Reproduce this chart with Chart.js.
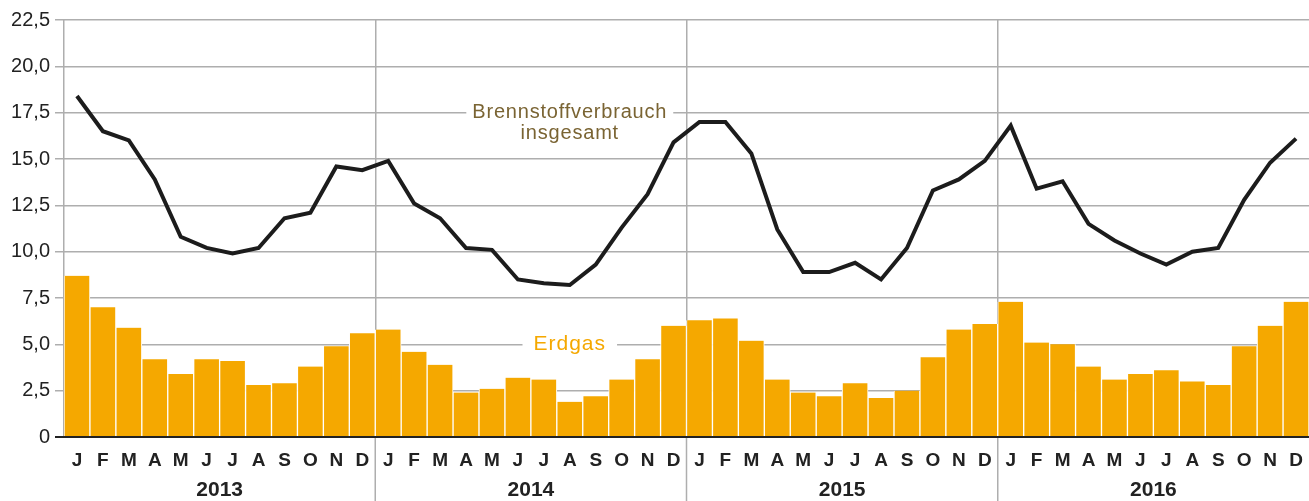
<!DOCTYPE html>
<html>
<head>
<meta charset="utf-8">
<script src="https://cdn.jsdelivr.net/npm/chart.js@4"></script>
<style>
    html, body { margin: 0; padding: 0; background: #fff; }
    #wrap { width: 1309px; height: 501px; }
</style>
</head>
<body>
<div id="wrap"><canvas id="chart" width="1309" height="501"></canvas></div>
<script>
// Brennstoffverbrauch vs. Erdgas, monthly 2013-2016

const years = ['2013', '2014', '2015', '2016'];
const monthLetters = ['J', 'F', 'M', 'A', 'M', 'J', 'J', 'A', 'S', 'O', 'N', 'D'];

const totalFuel2013 = [18.4, 16.5, 16.0, 13.9, 10.8, 10.2, 9.9, 10.2, 11.8, 12.1, 14.6, 14.4];
const totalFuel2014 = [14.9, 12.6, 11.8, 10.2, 10.1, 8.5, 8.3, 8.2, 9.3, 11.3, 13.1, 15.9];
const totalFuel2015 = [17.0, 17.0, 15.3, 11.2, 8.9, 8.9, 9.4, 8.5, 10.2, 13.3, 13.9, 14.9];
const totalFuel2016 = [16.8, 13.4, 13.8, 11.5, 10.6, 9.9, 9.3, 10.0, 10.2, 12.8, 14.8, 16.1];

const gas2013 = [8.7, 7.0, 5.9, 4.2, 3.4, 4.2, 4.1, 2.8, 2.9, 3.8, 4.9, 5.6];
const gas2014 = [5.8, 4.6, 3.9, 2.4, 2.6, 3.2, 3.1, 1.9, 2.2, 3.1, 4.2, 6.0];
const gas2015 = [6.3, 6.4, 5.2, 3.1, 2.4, 2.2, 2.9, 2.1, 2.5, 4.3, 5.8, 6.1];
const gas2016 = [7.3, 5.1, 5.0, 3.8, 3.1, 3.4, 3.6, 3.0, 2.8, 4.9, 6.0, 7.3];

const yTicks = [0, 2.5, 5, 7.5, 10, 12.5, 15, 17.5, 20, 22.5];

// Series labels placed inside the plot
const fuelLabel = ['Brennstoffverbrauch', 'insgesamt'];
const gasLabel = 'Erdgas';

const FONT = '"Liberation Sans", Arial, Helvetica, sans-serif';
const GRID = '#aeaeae';
const ORANGE = '#f5a800';

const labels = [];
years.forEach(() => monthLetters.forEach(m => labels.push(m)));
const totalFuel = [].concat(totalFuel2013, totalFuel2014, totalFuel2015, totalFuel2016);
const gas = [].concat(gas2013, gas2014, gas2015, gas2016);

// Labels in the plot, with a white patch that breaks the grid line
const seriesLabels = {
    id: 'seriesLabels',
    beforeDatasetsDraw(chart) {
        const ctx = chart.ctx;
        const x = chart.scales.x.getPixelForValue(19);
        const y = chart.scales.y;
        ctx.save();
        ctx.textAlign = 'center';
        ctx.textBaseline = 'middle';

        ctx.font = '20px ' + FONT;
        ctx.letterSpacing = '0.8px';
        let w = ctx.measureText(fuelLabel[0]).width;
        ctx.fillStyle = '#fff';
        ctx.fillRect(x - w / 2 - 6, y.getPixelForValue(17.5) - 4, w + 12, 8);
        ctx.fillStyle = '#7a6433';
        ctx.fillText(fuelLabel[0], x, y.getPixelForValue(17.5));
        ctx.fillText(fuelLabel[1], x, y.getPixelForValue(17.5) + 21);

        ctx.font = '21px ' + FONT;
        ctx.letterSpacing = '1px';
        w = ctx.measureText(gasLabel).width;
        ctx.fillStyle = '#fff';
        ctx.fillRect(x - w / 2 - 11, y.getPixelForValue(5) - 4, w + 22, 8);
        ctx.fillStyle = ORANGE;
        ctx.fillText(gasLabel, x, y.getPixelForValue(5));
        ctx.restore();
    },
    afterDraw(chart) {
        // year separators below the plot and year captions
        const ctx = chart.ctx;
        const xs = chart.scales.x;
        const area = chart.chartArea;
        ctx.save();
        ctx.strokeStyle = GRID;
        ctx.lineWidth = 1.5;
        years.forEach((yr, i) => {
            if (i > 0) {
                const bx = (xs.getPixelForValue(i * 12 - 1) + xs.getPixelForValue(i * 12)) / 2;
                ctx.beginPath();
                ctx.moveTo(bx, area.bottom + 1);
                ctx.lineTo(bx, chart.height);
                ctx.stroke();
            }
            const cx = (xs.getPixelForValue(i * 12) + xs.getPixelForValue(i * 12 + 11)) / 2;
            ctx.fillStyle = '#222';
            ctx.font = 'bold 21px ' + FONT;
            ctx.textAlign = 'center';
            ctx.textBaseline = 'middle';
            ctx.fillText(yr, cx, 490);
        });
        ctx.restore();
    }
};

new Chart(document.getElementById('chart').getContext('2d'), {
    data: {
        labels: labels,
        datasets: [
            {
                type: 'line',
                label: 'Brennstoffverbrauch insgesamt',
                data: totalFuel,
                borderColor: '#1c1c1c',
                borderWidth: 4,
                pointRadius: 0,
                tension: 0,
                order: 0
            },
            {
                type: 'bar',
                label: 'Erdgas',
                data: gas,
                backgroundColor: ORANGE,
                borderColor: '#ffffff',
                borderWidth: { left: 1, right: 1, top: 0, bottom: 0 },
                borderSkipped: false,
                barPercentage: 1,
                categoryPercentage: 1,
                order: 1
            }
        ]
    },
    options: {
        responsive: false,
        animation: false,
        layout: { padding: { top: 20, right: 0, bottom: 0, left: 0 } },
        plugins: {
            legend: { display: false },
            tooltip: { enabled: false }
        },
        scales: {
            x: {
                offset: true,
                afterFit(scale) {
                    scale.height = 64;
                    scale.paddingLeft = 0;
                    scale.paddingRight = 0;
                },
                grid: {
                    offset: true,
                    drawTicks: false,
                    lineWidth: 1.5,
                    color: ctx => (ctx.index % 12 === 0 ? GRID : 'rgba(0,0,0,0)')
                },
                border: { display: false },
                ticks: {
                    padding: 12,
                    maxRotation: 0,
                    autoSkip: false,
                    color: '#222',
                    font: { family: FONT, size: 19, weight: 'bold' }
                }
            },
            y: {
                min: 0,
                max: 22.5,
                afterFit(scale) { scale.width = 64; },
                afterBuildTicks(scale) { scale.ticks = yTicks.map(v => ({ value: v })); },
                border: { display: false },
                grid: {
                    tickLength: 9,
                    lineWidth: ctx => (ctx.tick && ctx.tick.value === 0 ? 2 : 1.5),
                    color: ctx => (ctx.tick && ctx.tick.value === 0 ? '#222' : GRID)
                },
                ticks: {
                    padding: 5,
                    color: '#222',
                    font: { family: FONT, size: 20 },
                    callback: v => (v === 0 ? '0' : v.toFixed(1).replace('.', ','))
                }
            }
        }
    },
    plugins: [seriesLabels]
});
</script>
</body>
</html>
